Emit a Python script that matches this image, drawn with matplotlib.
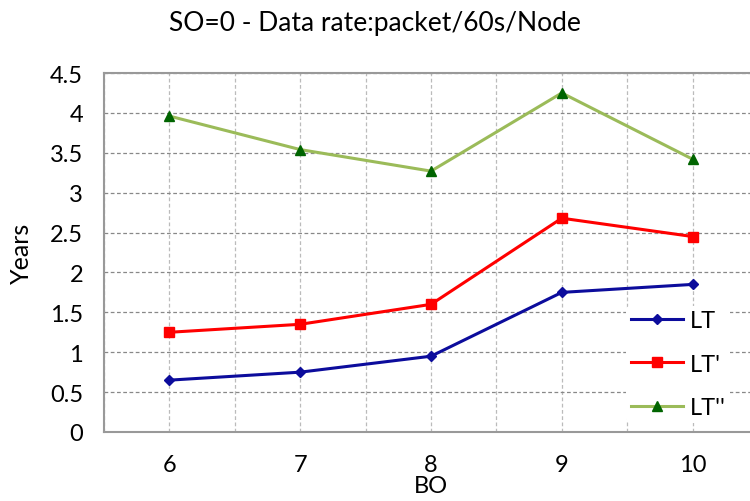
import matplotlib.pyplot as plt

plt.rcParams['font.family'] = ['Lato', 'DejaVu Sans']

bo = [6, 7, 8, 9, 10]
lt = [0.65, 0.75, 0.95, 1.75, 1.85]
lt1 = [1.25, 1.35, 1.60, 2.68, 2.45]
lt2 = [3.96, 3.54, 3.27, 4.25, 3.42]

fig = plt.figure(figsize=(7.5, 5.02), dpi=100)
# the plot frame runs a little past the right edge of the canvas
ax = fig.add_axes([104 / 750, 69 / 502, 654 / 750, 359 / 502])

ax.plot(bo, lt, color='#0c0c9c', lw=2.2, marker='D', ms=5, label='LT')
ax.plot(bo, lt1, color='#ff0000', lw=2.2, marker='s', ms=7, label="LT'")
ax.plot(bo, lt2, color='#9bbb59', lw=2.2, marker='^', ms=7,
        mfc='#006400', mec='#006400', label="LT''")

ax.set_xlim(5.5, 10.5)
ax.set_ylim(0, 4.5)
ax.set_xticks(bo)
ax.set_xticks([5.5 + 0.5 * i for i in range(11)], minor=True)
ax.set_yticks([0.5 * i for i in range(10)])
ax.set_yticklabels(['0', '0.5', '1', '1.5', '2', '2.5', '3', '3.5', '4', '4.5'])

ax.grid(True, which='major', axis='y', ls=(0, (3, 2)), color='#888888', lw=0.9)
ax.grid(True, which='both', axis='x', ls=(0, (3, 2)), color='#bbbbbb', lw=0.9)
ax.set_axisbelow(True)

ax.tick_params(which='both', length=0)
ax.tick_params(axis='x', pad=16, labelsize=17)
ax.tick_params(axis='y', pad=15, labelsize=17)

for s in ax.spines.values():
    s.set_color('#999999')
    s.set_linewidth(1.5)

ax.set_xlabel('BO', fontsize=17, labelpad=0)
ax.set_ylabel('Years', fontsize=18, labelpad=12)
fig.suptitle('SO=0 - Data rate:packet/60s/Node', fontsize=19, x=0.5, y=0.978)

leg = ax.legend(loc='upper left', bbox_to_anchor=(0.78, 0.385), frameon=True,
                fontsize=17, handlelength=2.2, handletextpad=0.3,
                labelspacing=0.95, borderpad=0.2)
leg.get_frame().set_edgecolor('none')
leg.get_frame().set_facecolor('white')
leg.get_frame().set_alpha(1)

fig.savefig('out.png', dpi=100)
